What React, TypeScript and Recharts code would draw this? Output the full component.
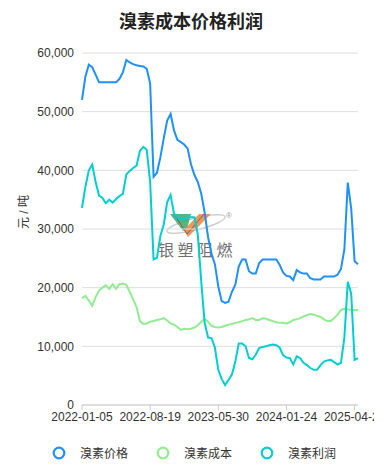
import { LineChart, Line, XAxis, YAxis, CartesianGrid } from 'recharts';

const dates = [
  '2022-01-05', '2022-01-14', '2022-01-26', '2022-02-09', '2022-02-18', '2022-03-02', '2022-03-11', '2022-03-23', '2022-04-01', '2022-04-13',
  '2022-04-22', '2022-05-06', '2022-05-17', '2022-05-27', '2022-06-08', '2022-06-17', '2022-06-29', '2022-07-08', '2022-07-20', '2022-08-05',
  '2022-08-19', '2022-09-02', '2022-09-16', '2022-09-30', '2022-10-14', '2022-10-28', '2022-11-11', '2022-11-25', '2022-12-09', '2022-12-23',
  '2023-01-06', '2023-01-20', '2023-02-10', '2023-02-24', '2023-03-10', '2023-03-24', '2023-04-07', '2023-04-21', '2023-05-05', '2023-05-19',
  '2023-05-30', '2023-06-12', '2023-06-26', '2023-07-07', '2023-07-19', '2023-07-31', '2023-08-11', '2023-08-23', '2023-09-04', '2023-09-15',
  '2023-09-27', '2023-10-13', '2023-10-25', '2023-11-06', '2023-11-17', '2023-11-29', '2023-12-11', '2023-12-22', '2024-01-03', '2024-01-12',
  '2024-01-24', '2024-02-21', '2024-03-13', '2024-04-03', '2024-04-24', '2024-05-15', '2024-06-05', '2024-06-26', '2024-07-17', '2024-08-07',
  '2024-08-28', '2024-09-18', '2024-10-16', '2024-11-06', '2024-11-27', '2024-12-18', '2025-01-08', '2025-01-29', '2025-02-19', '2025-03-12',
  '2025-04-23', '2025-05-07',
];

// 溴素价格
const price = [
  52000, 56000, 58000, 57600, 56300, 55000, 55000, 55000, 55000, 55000,
  55000, 55600, 56700, 58800, 58400, 58100, 57900, 57800, 57700, 57300,
  54800, 38900, 39600, 42200, 45500, 48500, 49600, 46800, 45200, 44800,
  44400, 43700, 41000, 39200, 38000, 36000, 32800, 28600, 25800, 24000,
  20200, 17700, 17400, 17600, 19300, 20500, 23600, 24800, 24800, 22800,
  22400, 22400, 24200, 24800, 24800, 24800, 24800, 24800, 23900, 22600,
  22000, 21900, 21300, 23000, 22600, 22400, 22400, 21600, 21400, 21400,
  21400, 21900, 21900, 21900, 21900, 22200, 23200, 26500, 37900, 33500,
  24500, 24000,
];

// 溴素成本
const cost = [
  18200, 18600, 17800, 16900, 18400, 19500, 20000, 20400, 19800, 20600,
  19800, 20600, 20700, 20500, 19300, 18000, 16700, 14300, 13800, 13900,
  14200, 14300, 14500, 14600, 14800, 14400, 13900, 13700, 13300, 12800,
  13000, 12900, 13000, 13200, 13600, 14200, 14700, 14200, 13500, 13300,
  13200, 13300, 13500, 13700, 13800, 14000, 14100, 14300, 14500, 14600,
  14800, 14500, 14500, 14800, 14700, 14500, 14300, 14100, 14000, 14000,
  13900, 14100, 14500, 14600, 14800, 15100, 15300, 15500, 15400, 15200,
  15000, 14600, 14300, 14300, 14800, 15400, 16200, 16400, 16300, 16200,
  16200, 16200,
];

// 溴素利润
const profit = [
  33600, 37200, 40000, 41000, 38000, 35700, 35300, 34400, 35000, 34500,
  35100, 35600, 36000, 39300, 39900, 40400, 40800, 43300, 44000, 43500,
  38000, 24800, 25100, 28800, 30800, 34600, 35800, 32600, 31900, 31800,
  31800, 32000, 32000, 32000, 29000, 21000, 14000, 11500, 11400, 9800,
  6000, 4400, 3400, 4300, 5200, 7400, 10500, 10500, 10000, 8000,
  7800, 8600, 9700, 9900, 10000, 10200, 10300, 10200, 9800, 8500,
  8100, 8000, 6900, 8300, 8000, 7200, 6800, 6300, 6000, 6000,
  6800, 7400, 7600, 7700, 7300, 6900, 7200, 11500, 21000, 19000,
  7700, 8000,
];

const yTicks = [0, 10000, 20000, 30000, 40000, 50000, 60000];

const series = [
  { key: 'price', name: '溴素价格', color: '#1E90FF' },
  { key: 'cost', name: '溴素成本', color: '#90EE90' },
  { key: 'profit', name: '溴素利润', color: '#00CED1' },
];

const data = dates.map((d, i) => ({ date: d, price: price[i], cost: cost[i], profit: profit[i] }));

const FONT = '"Liberation Sans", "Noto Sans CJK SC", sans-serif';

const Watermark = () => (
  <svg width={366} height={440} style={{ position: 'absolute', top: 0, left: 0 }}>
    {/* page coords shifted by the 8px body margin */}
    <g transform="translate(-8,-8)">
      <ellipse cx={196} cy={224} rx={30} ry={6} fill="none" stroke="#d0d0d0" strokeWidth={1.5} transform="rotate(-14 196 224)" />
      <polygon points="170,214 191,214 187,229 183,231" fill="#3aa76d" opacity={0.85} />
      <polygon points="184,230 188,237 211,214 199,214" fill="#ee8a4a" opacity={0.9} />
      <polygon points="177,221 184,230 188,237 181,224" fill="#ee8a4a" opacity={0.9} />
      <polyline points="174,214 187,234 204,214" fill="none" stroke="#556" strokeWidth={0.8} />
      <text x={226} y={218} fontSize={8} fill="#999" fontFamily={FONT}>®</text>
      <text x={158} y={256} fontSize={16} fill="#707070" letterSpacing={3.5} fontFamily='"Noto Sans CJK SC", sans-serif'>银塑阻燃</text>
    </g>
  </svg>
);

const App = () => {
  return (
    <div style={{ position: 'relative', width: 366, height: 460, fontFamily: FONT }}>
      <div
        style={{
          position: 'absolute',
          top: 2,
          left: 0,
          width: 366,
          textAlign: 'center',
          fontSize: 18,
          lineHeight: '20px',
          fontWeight: 'bold',
          color: '#222',
          fontFamily: '"Noto Sans CJK SC", sans-serif',
        }}
      >
        溴素成本价格利润
      </div>
      <Watermark />
      <div style={{ position: 'absolute', top: 0, left: 0 }}>
        <LineChart width={366} height={440} data={data} margin={{ top: 45, right: 16, bottom: 13, left: 0 }}>
          <CartesianGrid vertical={false} stroke="#dedede" />
          <XAxis
            dataKey="date"
            interval={19}
            height={30}
            tickSize={5}
            tick={{ fontSize: 12, fill: '#333' }}
            tickLine={{ stroke: '#ccc' }}
            axisLine={{ stroke: '#ccc' }}
          />
          <YAxis
            width={74}
            domain={[0, 60000]}
            ticks={yTicks}
            axisLine={false}
            tickLine={false}
            tick={{ fontSize: 12, fill: '#333' }}
            tickFormatter={(v: number) => v.toLocaleString('en-US')}
            label={{ value: '元 / 吨', angle: -90, position: 'insideLeft', offset: 16, fontSize: 12, fill: '#333' }}
          />
          {series.map((s) => (
            <Line
              key={s.key}
              type="linear"
              dataKey={s.key}
              name={s.name}
              stroke={s.color}
              strokeWidth={2}
              dot={false}
              isAnimationActive={false}
            />
          ))}
        </LineChart>
      </div>
      {series.map((s, i) => (
        <div
          key={s.key}
          style={{ position: 'absolute', top: 436, left: 44 + i * 104, display: 'flex', alignItems: 'center', fontSize: 12, color: '#333' }}
        >
          <svg width={14} height={14}>
            <circle cx={7} cy={7} r={5.3} fill="#fff" stroke={s.color} strokeWidth={2.2} />
          </svg>
          <span style={{ marginLeft: 14, fontFamily: '"Noto Sans CJK SC", sans-serif' }}>{s.name}</span>
        </div>
      ))}
    </div>
  );
};

export default App;
